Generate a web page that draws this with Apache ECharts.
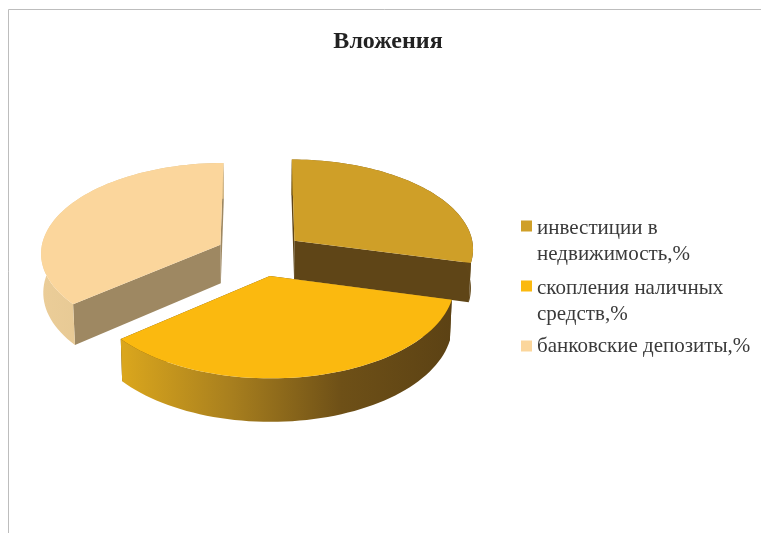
<!DOCTYPE html>
<html lang="ru">
<head>
  <meta charset="UTF-8">
  <title>Вложения</title>
  <style>
    html, body { margin: 0; padding: 0; background: #fff; }
    #main { width: 761px; height: 533px; }
  </style>
  <script src="https://cdn.jsdelivr.net/npm/echarts@6/dist/echarts.min.js"></script>
</head>
<body>
<div id="main"></div>
<script type="text/javascript">
var chartTitle = 'Вложения';
var names = ['инвестиции в\nнедвижимость,%', 'скопления наличных\nсредств,%', 'банковские депозиты,%'];
var values = [29, 35, 36];

var topColors = ['#CF9F28', '#FBB90F', '#FBD69C'];
var innerColors = ['#5F4517', '#5F4517', '#9E8862'];
var outerColors = [
  ['#8A6A1C', '#5F4517'],
  ['#DBA71D', '#A87F1E', '#6E5017', '#5C4214'],
  ['#EBCD98', '#D8BC8A']
];
var drawOrder = [2, 3, 1];

// 3d pie geometry
var cx = 260, cy = 254;      // centre of the top plane
var rx = 180, ry = 90;       // radii of the top ellipse
var depth = 39;              // thickness of the pie
var persp = 12;              // camera distance, in radii
var explode = 0.245;         // slice offset, in radii

var total = 0;
for (var i = 0; i < values.length; i++) total += values[i];

// world point (unit disc, y goes to the viewer) to the screen
function project(x, y, up) {
  var p = persp / (persp - y);
  var sx = cx + rx * x * p * (up ? 1 : 0.99);
  var sy = cy + ry * y * p + (up ? 0 : depth * p);
  return [sx, sy];
}

function sliceAngles(idx) {
  var start = 90;
  for (var i = 0; i < idx; i++) start -= values[i] / total * 360;
  return [start, start - values[idx] / total * 360];
}

function renderSlice(params, api) {
  var idx = params.seriesIndex;
  var a = sliceAngles(idx);
  var mid = (a[0] + a[1]) / 2 * Math.PI / 180;
  var ox = Math.cos(mid) * explode;
  var oy = -Math.sin(mid) * explode;
  var steps = 60;
  var arcTop = [], arcBottom = [];
  for (var s = 0; s <= steps; s++) {
    var t = (a[0] + (a[1] - a[0]) * s / steps) * Math.PI / 180;
    var x = ox + Math.cos(t), y = oy - Math.sin(t);
    arcTop.push(project(x, y, true));
    arcBottom.push(project(x, y, false));
  }
  var apexTop = project(ox, oy, true);
  var apexBottom = project(ox, oy, false);
  var stops = outerColors[idx].map(function (c, k, arr) {
    return { offset: k / (arr.length - 1), color: c };
  });
  var wall = new echarts.graphic.LinearGradient(0, 0, 1, 0, stops);

  var children = [
    { type: 'polygon', shape: { points: [apexTop, arcTop[0], arcBottom[0], apexBottom] }, style: { fill: innerColors[idx] } },
    { type: 'polygon', shape: { points: [apexTop, arcTop[steps], arcBottom[steps], apexBottom] }, style: { fill: innerColors[idx] } },
    { type: 'polygon', shape: { points: arcTop.concat(arcBottom.slice().reverse()) }, style: { fill: wall } },
    { type: 'polygon', shape: { points: [apexTop].concat(arcTop) }, style: { fill: topColors[idx] } }
  ];
  return { type: 'group', children: children };
}

var seriesList = [];
for (var n = 0; n < names.length; n++) {
  seriesList.push({
    type: 'custom',
    name: names[n],
    coordinateSystem: 'none',
    z: drawOrder[n],
    silent: true,
    animation: false,
    itemStyle: { color: topColors[n] },
    renderItem: renderSlice,
    data: [[values[n]]]
  });
}

var legendText = {
  fontFamily: 'Liberation Serif',
  fontSize: 21,
  lineHeight: 26,
  color: '#3A3A3A'
};

var myChart = echarts.init(document.getElementById('main'), null, { renderer: 'canvas' });
var option = {
  backgroundColor: '#fff',
  animation: false,
  title: {
    text: chartTitle,
    left: 383,
    top: 25,
    textAlign: 'center',
    textStyle: { fontFamily: 'Liberation Serif', fontSize: 24, fontWeight: 'bold', color: '#222' }
  },
  legend: [
    {
      // icon box is taller than the square so the square sits on the first text line
      data: [
        { name: names[0], icon: 'path://M0 0H11V11H0ZM0 41H0.01V41.01H0Z' },
        { name: names[1], icon: 'path://M0 0H11V11H0ZM0 41H0.01V41.01H0Z' }
      ],
      orient: 'vertical',
      left: 521,
      top: 215,
      padding: 0,
      itemWidth: 11,
      itemHeight: 41,
      itemGap: 8,
      selectedMode: false,
      textStyle: legendText
    },
    {
      data: [{ name: names[2], icon: 'rect' }],
      orient: 'vertical',
      left: 521,
      top: 333,
      padding: 0,
      itemWidth: 11,
      itemHeight: 11,
      selectedMode: false,
      textStyle: legendText
    }
  ],
  graphic: [
    {
      type: 'polyline',
      silent: true,
      shape: { points: [[8.5, 533], [8.5, 9.5], [761, 9.5]] },
      style: { stroke: '#BDBDBD', lineWidth: 1, fill: null }
    }
  ],
  series: seriesList
};
myChart.setOption(option);
</script>
</body>
</html>
